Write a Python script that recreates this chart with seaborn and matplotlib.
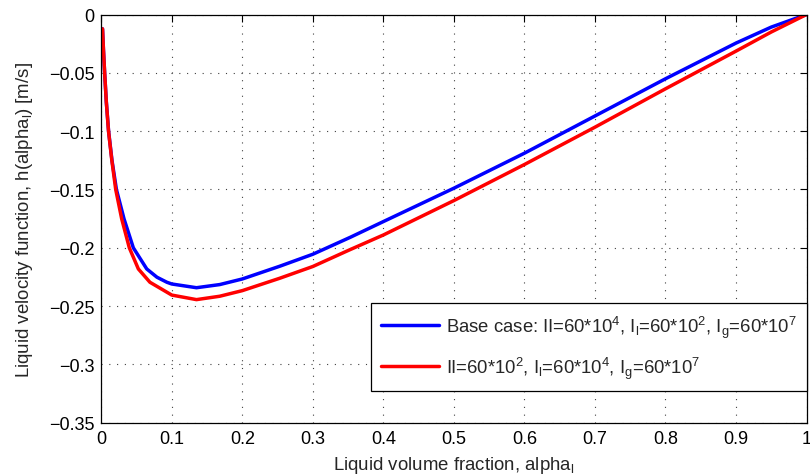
import numpy as np
import pandas as pd
import matplotlib
matplotlib.use("Agg")
import matplotlib.pyplot as plt
import seaborn as sns
from matplotlib.ticker import FixedLocator, FuncFormatter
from matplotlib.lines import Line2D

# ---- data ----
alpha_base = [0.0018, 0.0031, 0.0048, 0.0072, 0.0104, 0.0152, 0.0215, 0.0323,
              0.0455, 0.0645, 0.079, 0.093, 0.1, 0.135, 0.168, 0.2, 0.253,
              0.3, 0.353, 0.4, 0.5, 0.6, 0.7, 0.8, 0.9, 0.95, 1.0]
h_base = [-0.0123, -0.030, -0.050, -0.075, -0.100, -0.125, -0.150, -0.1752,
          -0.200, -0.2181, -0.2252, -0.2295, -0.2310, -0.2342, -0.2315, -0.2267,
          -0.2158, -0.2055, -0.191, -0.1775, -0.1489, -0.1189, -0.087, -0.0551,
          -0.0245, -0.0108, 0.0]

alpha_alt = [0.0018, 0.0031, 0.0048, 0.0072, 0.0103, 0.0150, 0.0205, 0.029,
             0.0398, 0.0526, 0.069, 0.1, 0.135, 0.168, 0.2, 0.253, 0.3, 0.353,
             0.4, 0.5, 0.6, 0.7, 0.8, 0.9, 0.95, 1.0]
h_alt = [-0.0123, -0.030, -0.050, -0.075, -0.100, -0.125, -0.150, -0.1752,
         -0.200, -0.2181, -0.2295, -0.2405, -0.2444, -0.2415, -0.2367, -0.2261,
         -0.216, -0.2015, -0.189, -0.1595, -0.1286, -0.0966, -0.0637, -0.0314,
         -0.015, 0.0]

label_base = r"Base case: II=60*10$^\mathrm{4}$, I$_\mathrm{l}$=60*10$^\mathrm{2}$, I$_\mathrm{g}$=60*10$^\mathrm{7}$"
label_alt = r"II=60*10$^\mathrm{2}$, I$_\mathrm{l}$=60*10$^\mathrm{4}$, I$_\mathrm{g}$=60*10$^\mathrm{7}$"

x_ticks = [0, 0.1, 0.2, 0.3, 0.4, 0.5, 0.6, 0.7, 0.8, 0.9, 1.0]
y_ticks = [0, -0.05, -0.1, -0.15, -0.2, -0.25, -0.3, -0.35]

xlabel = r"Liquid volume fraction, alpha$_\mathrm{l}$"
ylabel = r"Liquid velocity function, h(alpha$_\mathrm{l}$) [m/s]"

# ---- styling ----
sns.set_theme(style="white")
plt.rcParams["font.family"] = ["Liberation Sans", "DejaVu Sans"]
plt.rcParams["mathtext.fontset"] = "custom"
plt.rcParams["mathtext.rm"] = "Liberation Sans"
plt.rcParams["mathtext.it"] = "Liberation Sans:italic"
plt.rcParams["font.size"] = 13

df = pd.concat([
    pd.DataFrame({"alpha": alpha_base, "h": h_base, "case": label_base}),
    pd.DataFrame({"alpha": alpha_alt, "h": h_alt, "case": label_alt}),
])

fig = plt.figure(figsize=(8.1, 4.77), dpi=100)
ax = fig.add_axes([0.125, 0.1115, 0.8707, 0.856])

sns.lineplot(data=df, x="alpha", y="h", hue="case",
             palette={label_base: (0, 0, 1), label_alt: (1, 0, 0)},
             linewidth=2.5, sort=False, estimator=None, ax=ax, legend=False)
for ln in ax.lines:
    ln.set_solid_joinstyle("round")
    ln.set_solid_capstyle("round")

ax.set_xlim(0, 1)
ax.set_ylim(-0.35, 0)
ax.xaxis.set_major_locator(FixedLocator(x_ticks))
ax.yaxis.set_major_locator(FixedLocator(y_ticks))
ax.xaxis.set_major_formatter(FuncFormatter(lambda v, p: f"{v:g}".replace("-", "\u2212")))
ax.yaxis.set_major_formatter(FuncFormatter(lambda v, p: ("0" if abs(v) < 1e-12 else f"{v:g}").replace("-", "\u2212")))

ax.grid(True, color="0.25", linestyle=(0, (1, 6)), linewidth=0.8)
for s in ax.spines.values():
    s.set_color("black")
    s.set_linewidth(0.9)
ax.tick_params(direction="in", length=5, width=0.8, top=True, right=True,
               labelsize=13, colors="black", pad=5)

ax.set_xlabel(xlabel, fontsize=13.4, labelpad=5)
ax.set_ylabel(ylabel, fontsize=13.4, labelpad=10)

handles = [Line2D([], [], color=(0, 0, 1), lw=2.5), Line2D([], [], color=(1, 0, 0), lw=2.5)]
leg = ax.legend(handles, [label_base, label_alt], loc="lower right",
                bbox_to_anchor=(1.0, 0.078), borderaxespad=0, fancybox=False,
                framealpha=1, edgecolor="black", fontsize=13.3, handlelength=3.1,
                handletextpad=0.38, labelspacing=0.8, borderpad=0.55)
leg.get_frame().set_linewidth(0.9)

fig.savefig("out.png", dpi=100)
